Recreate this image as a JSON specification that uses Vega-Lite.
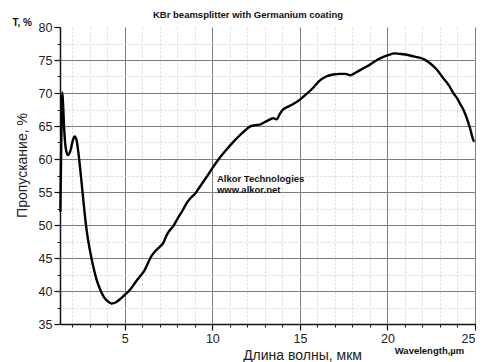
{
  "$schema": "https://vega.github.io/schema/vega-lite/v6.json",
  "width": 415,
  "height": 297,
  "autosize": {"type": "none"},
  "padding": {"left": 60, "top": 27, "right": 25, "bottom": 38},
  "background": "white",
  "title": {
    "text": "KBr beamsplitter with Germanium coating",
    "anchor": "start",
    "frame": "group",
    "dx": 93,
    "offset": -2,
    "fontSize": 9.5,
    "fontWeight": "bold",
    "font": "Liberation Sans",
    "color": "#111"
  },
  "config": {
    "view": {"stroke": null},
    "axis": {"labelFont": "Liberation Sans", "titleFont": "Liberation Sans"}
  },
  "data": {
    "values": [
      {"w": 1.32, "t": 52}, {"w": 1.36, "t": 60}, {"w": 1.40, "t": 67}, {"w": 1.43, "t": 70.1},
      {"w": 1.47, "t": 68.5}, {"w": 1.55, "t": 64}, {"w": 1.65, "t": 61.3}, {"w": 1.76, "t": 60.6},
      {"w": 1.9, "t": 61.3}, {"w": 2.02, "t": 62.7}, {"w": 2.14, "t": 63.4}, {"w": 2.25, "t": 62.8},
      {"w": 2.38, "t": 60.3}, {"w": 2.53, "t": 56.5}, {"w": 2.65, "t": 53.3}, {"w": 2.77, "t": 50.3},
      {"w": 2.9, "t": 47.8}, {"w": 3.0, "t": 46.3}, {"w": 3.2, "t": 43.7}, {"w": 3.38, "t": 41.8},
      {"w": 3.6, "t": 40.2}, {"w": 3.8, "t": 39.1}, {"w": 4.0, "t": 38.5}, {"w": 4.24, "t": 38.1},
      {"w": 4.5, "t": 38.3}, {"w": 4.75, "t": 38.8}, {"w": 5.0, "t": 39.4}, {"w": 5.3, "t": 40.2},
      {"w": 5.6, "t": 41.3}, {"w": 5.86, "t": 42.2}, {"w": 6.1, "t": 43.0}, {"w": 6.3, "t": 44.1},
      {"w": 6.5, "t": 45.2}, {"w": 6.8, "t": 46.2}, {"w": 7.0, "t": 46.7}, {"w": 7.2, "t": 47.3},
      {"w": 7.4, "t": 48.5}, {"w": 7.57, "t": 49.2}, {"w": 7.76, "t": 49.8}, {"w": 8.0, "t": 50.9},
      {"w": 8.3, "t": 52.2}, {"w": 8.53, "t": 53.3}, {"w": 8.8, "t": 54.2}, {"w": 9.0, "t": 54.7},
      {"w": 9.29, "t": 55.8}, {"w": 9.6, "t": 57.0}, {"w": 10.05, "t": 58.8}, {"w": 10.4, "t": 60.1},
      {"w": 10.8, "t": 61.4}, {"w": 11.2, "t": 62.6}, {"w": 11.57, "t": 63.6}, {"w": 11.9, "t": 64.4},
      {"w": 12.14, "t": 64.9}, {"w": 12.4, "t": 65.1}, {"w": 12.7, "t": 65.2}, {"w": 13.0, "t": 65.6},
      {"w": 13.3, "t": 66.0}, {"w": 13.47, "t": 66.2}, {"w": 13.67, "t": 66.0}, {"w": 13.85, "t": 66.8},
      {"w": 14.0, "t": 67.4}, {"w": 14.3, "t": 67.9}, {"w": 14.6, "t": 68.3}, {"w": 15.0, "t": 69.0},
      {"w": 15.4, "t": 69.9}, {"w": 15.76, "t": 70.8}, {"w": 16.1, "t": 71.8}, {"w": 16.5, "t": 72.5},
      {"w": 16.9, "t": 72.8}, {"w": 17.3, "t": 72.9}, {"w": 17.6, "t": 72.9}, {"w": 17.9, "t": 72.7},
      {"w": 18.2, "t": 73.1}, {"w": 18.6, "t": 73.7}, {"w": 19.0, "t": 74.3}, {"w": 19.4, "t": 75.0},
      {"w": 19.7, "t": 75.4}, {"w": 20.0, "t": 75.7}, {"w": 20.43, "t": 76.0}, {"w": 20.8, "t": 75.9},
      {"w": 21.1, "t": 75.8}, {"w": 21.4, "t": 75.6}, {"w": 21.76, "t": 75.4}, {"w": 22.1, "t": 75.1},
      {"w": 22.43, "t": 74.5}, {"w": 22.8, "t": 73.6}, {"w": 23.2, "t": 72.2}, {"w": 23.5, "t": 71.2},
      {"w": 23.76, "t": 70.0}, {"w": 24.0, "t": 69.1}, {"w": 24.14, "t": 68.4}, {"w": 24.35, "t": 67.4},
      {"w": 24.5, "t": 66.4}, {"w": 24.7, "t": 64.8}, {"w": 24.9, "t": 62.9}, {"w": 24.95, "t": 62.6}
    ]
  },
  "resolve": {"axis": {"x": "independent", "y": "independent"}},
  "layer": [
    {
      "mark": {"type": "line", "opacity": 0},
      "encoding": {
        "x": {
          "field": "w", "type": "quantitative",
          "scale": {"domain": [1.3, 25], "nice": false, "zero": false},
          "axis": {
            "orient": "bottom",
            "values": [2, 3, 4, 6, 7, 8, 9, 11, 12, 13, 14, 16, 17, 18, 19, 21, 22, 23, 24],
            "labels": false, "domain": false,
            "tickSize": 3, "tickColor": "#222",
            "grid": true, "gridColor": "#d6d6d6", "gridDash": [2, 2], "gridWidth": 1,
            "title": "Wavelength,µm",
            "titleFontSize": 9.5, "titleFontWeight": "bold", "titleColor": "#111",
            "titleX": 369, "titleY": 26, "titleBaseline": "middle", "titleAlign": "center"
          }
        },
        "y": {
          "field": "t", "type": "quantitative",
          "scale": {"domain": [35, 80], "nice": false, "zero": false},
          "axis": {
            "orient": "left",
            "values": [37.5, 42.5, 47.5, 52.5, 57.5, 62.5, 67.5, 72.5, 77.5],
            "labels": false, "domain": false,
            "tickSize": 3, "tickColor": "#222",
            "grid": true, "gridColor": "#d6d6d6", "gridDash": [2, 2], "gridWidth": 1,
            "title": "T, %",
            "titleFontSize": 10, "titleFontWeight": "bold", "titleColor": "#111",
            "titleAngle": 0, "titleX": -48, "titleY": -5,
            "titleAlign": "left", "titleBaseline": "middle"
          }
        }
      }
    },
    {
      "mark": {"type": "line", "color": "black", "strokeWidth": 2.4, "interpolate": "monotone"},
      "encoding": {
        "x": {
          "field": "w", "type": "quantitative",
          "axis": {
            "orient": "bottom",
            "values": [5, 10, 15, 20, 25],
            "domainColor": "#111", "domainWidth": 1.5,
            "tickSize": 6, "tickColor": "#111", "tickWidth": 1.2,
            "labelFontSize": 12.5, "labelColor": "#222", "labelPadding": 2,
            "grid": true, "gridColor": "#7d7d7d", "gridWidth": 1,
            "title": "Длина волны, мкм",
            "titleFontSize": 14, "titleFontWeight": "normal", "titleColor": "#222",
            "titleX": 242, "titleY": 31, "titleBaseline": "middle", "titleAlign": "center"
          }
        },
        "y": {
          "field": "t", "type": "quantitative",
          "axis": {
            "orient": "left",
            "values": [35, 40, 45, 50, 55, 60, 65, 70, 75, 80],
            "domainColor": "#111", "domainWidth": 1.5,
            "tickSize": 6, "tickColor": "#111", "tickWidth": 1.2,
            "labelFontSize": 12.5, "labelColor": "#222", "labelPadding": 2,
            "grid": true, "gridColor": "#7d7d7d", "gridWidth": 1,
            "gridOpacity": {"condition": {"test": "datum.value == 80", "value": 0}, "value": 1},
            "title": "Пропускание, %",
            "titleFontSize": 14, "titleFontWeight": "normal", "titleColor": "#222",
            "titleX": -38, "titleY": 138, "titleBaseline": "middle", "titleAlign": "center"
          }
        }
      }
    },
    {
      "data": {"values": [{"label": "Alkor Technologies\nwww.alkor.net"}]},
      "mark": {"type": "text", "align": "left", "baseline": "middle", "fontSize": 9.5, "fontWeight": "bold", "font": "Liberation Sans", "color": "#111", "lineBreak": "\n", "lineHeight": 11},
      "encoding": {
        "x": {"datum": 10.26, "type": "quantitative", "axis": null},
        "y": {"datum": 57.0, "type": "quantitative", "axis": null},
        "text": {"field": "label"}
      }
    }
  ]
}
